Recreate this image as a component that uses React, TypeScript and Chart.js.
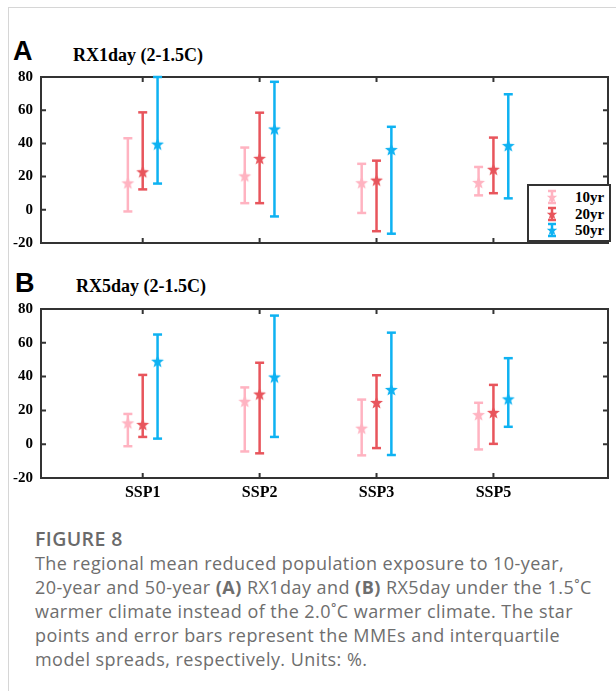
import React, { useEffect, useRef } from 'react';
import { Chart, registerables } from 'chart.js';

Chart.register(...registerables);

// ---------- data ----------
const categories = ['SSP1', 'SSP2', 'SSP3', 'SSP5'];
const categoryPositions = [1, 2, 3, 4];
const seriesNames = ['10yr', '20yr', '50yr'];
const seriesOffsets = [-0.127, 0, 0.127];
const seriesColors = ['#FFB3C1', '#E8555C', '#0EB2F2'];
const yTicks = [-20, 0, 20, 40, 60, 80];

// Panel A: RX1day (2-1.5C)
const rx1Mean10 = [16.2, 20.4, 16.3, 16.5];
const rx1Low10 = [-1.0, 4.0, -1.9, 8.7];
const rx1High10 = [43.1, 37.5, 27.7, 25.8];
const rx1Mean20 = [22.9, 31.0, 17.9, 24.4];
const rx1Low20 = [12.3, 4.0, -12.9, 10.0];
const rx1High20 = [58.7, 58.5, 29.6, 43.5];
const rx1Mean50 = [39.6, 48.7, 36.3, 38.7];
const rx1Low50 = [15.8, -4.0, -14.4, 6.9];
const rx1High50 = [80.0, 77.1, 50.0, 69.6];

// Panel B: RX5day (2-1.5C)
const rx5Mean10 = [12.6, 25.4, 9.5, 17.5];
const rx5Low10 = [-1.2, -4.3, -6.6, -3.1];
const rx5High10 = [17.9, 33.6, 26.4, 24.5];
const rx5Mean20 = [11.7, 29.7, 24.7, 18.8];
const rx5Low20 = [4.3, -5.4, -2.3, 0.2];
const rx5High20 = [41.0, 48.2, 40.8, 35.1];
const rx5Mean50 = [49.1, 39.8, 32.4, 26.8];
const rx5Low50 = [3.3, 4.3, -6.4, 10.3];
const rx5High50 = [64.9, 76.1, 66.0, 50.9];

const panelA = {
  means: [rx1Mean10, rx1Mean20, rx1Mean50],
  lows: [rx1Low10, rx1Low20, rx1Low50],
  highs: [rx1High10, rx1High20, rx1High50],
};
const panelB = {
  means: [rx5Mean10, rx5Mean20, rx5Mean50],
  lows: [rx5Low10, rx5Low20, rx5Low50],
  highs: [rx5High10, rx5High20, rx5High50],
};

// ---------- helpers ----------
function makeStar(color: string, size = 15) {
  const c = document.createElement('canvas');
  c.width = size;
  c.height = size;
  const ctx = c.getContext('2d')!;
  const cx = size / 2;
  const cy = size / 2 + 0.6;
  const R = 6.8;
  const r = R * 0.42;
  ctx.beginPath();
  for (let i = 0; i < 10; i++) {
    const a = -Math.PI / 2 + (i * Math.PI) / 5;
    const rad = i % 2 === 0 ? R : r;
    ctx.lineTo(cx + rad * Math.cos(a), cy + rad * Math.sin(a));
  }
  ctx.closePath();
  ctx.fillStyle = color;
  ctx.fill();
  return c;
}

const framePlugin = {
  id: 'frame',
  beforeDatasetsDraw(chart: any) {
    const { ctx, chartArea: a, scales } = chart;
    ctx.save();
    ctx.strokeStyle = '#333';
    ctx.lineWidth = 2;
    ctx.strokeRect(a.left, a.top, a.right - a.left, a.bottom - a.top);
    const tl = 5;
    ctx.beginPath();
    categoryPositions.forEach((v) => {
      const x = scales.x.getPixelForValue(v);
      ctx.moveTo(x, a.top);
      ctx.lineTo(x, a.top + tl);
      ctx.moveTo(x, a.bottom);
      ctx.lineTo(x, a.bottom - tl);
    });
    yTicks.forEach((v) => {
      const y = scales.y.getPixelForValue(v);
      ctx.moveTo(a.left, y);
      ctx.lineTo(a.left + tl, y);
      ctx.moveTo(a.right, y);
      ctx.lineTo(a.right - tl, y);
    });
    ctx.stroke();
    ctx.restore();
  },
};

function buildDatasets(panel: any) {
  const ds: any[] = [];
  seriesNames.forEach((name, s) => {
    const barData: any[] = [];
    categoryPositions.forEach((p, i) => {
      const x = p + seriesOffsets[s];
      barData.push({ x, y: panel.lows[s][i] });
      barData.push({ x, y: panel.highs[s][i] });
      barData.push({ x, y: null });
    });
    ds.push({
      type: 'line',
      label: name + ' spread',
      data: barData,
      borderColor: seriesColors[s],
      borderWidth: 2.5,
      pointStyle: 'line',
      pointRadius: 4.5,
      pointHoverRadius: 4.5,
      pointBorderWidth: 2.5,
      pointBorderColor: seriesColors[s],
      pointBackgroundColor: seriesColors[s],
      showLine: true,
      spanGaps: false,
      tension: 0,
      clip: false,
      order: 2,
    });
    ds.push({
      type: 'scatter',
      label: name,
      data: categoryPositions.map((p, i) => ({ x: p + seriesOffsets[s], y: panel.means[s][i] })),
      pointStyle: makeStar(seriesColors[s]),
      pointRadius: 7,
      clip: false,
      order: 1,
    });
  });
  return ds;
}

const tickFont = { family: '"Liberation Serif", "Times New Roman", serif', size: 15, weight: 'bold' as const };

function makeConfig(panel: any, showX: boolean, padTop: number, padBottom: number, xHeight: number) {
  return {
    type: 'scatter' as const,
    data: { datasets: buildDatasets(panel) },
    plugins: [framePlugin],
    options: {
      animation: false as const,
      responsive: false,
      events: [],
      layout: { padding: { top: padTop, bottom: padBottom, left: 0, right: 1 } },
      plugins: { legend: { display: false }, title: { display: false }, tooltip: { enabled: false } },
      scales: {
        x: {
          type: 'linear' as const,
          min: 0.13,
          max: 4.98,
          display: showX,
          grid: { display: false, drawTicks: false },
          border: { display: false },
          afterBuildTicks: (scale: any) => {
            scale.ticks = categoryPositions.map((v) => ({ value: v }));
          },
          afterFit: (scale: any) => {
            scale.height = xHeight;
          },
          ticks: {
            autoSkip: false,
            maxRotation: 0,
            padding: 5,
            color: '#000',
            font: { ...tickFont, size: 16 },
            callback: (_v: any, i: number) => categories[i],
          },
        },
        y: {
          type: 'linear' as const,
          min: -20,
          max: 80,
          grid: { display: false, drawTicks: false },
          border: { display: false },
          afterBuildTicks: (scale: any) => {
            scale.ticks = yTicks.map((v) => ({ value: v }));
          },
          afterFit: (scale: any) => {
            scale.width = 41;
          },
          ticks: {
            padding: 8,
            color: '#000',
            font: tickFont,
          },
        },
      },
    },
  };
}

function ChartCanvas({ config, width, height, style }: any) {
  const ref = useRef<HTMLCanvasElement | null>(null);
  useEffect(() => {
    const chart = new Chart(ref.current as HTMLCanvasElement, config as any);
    return () => chart.destroy();
  }, []);
  return <canvas ref={ref} width={width} height={height} style={{ position: 'absolute', ...style }} />;
}

function LegendIcon({ color }: { color: string }) {
  const pts: string[] = [];
  const cx = 7, cy = 8.5, R = 5.5, r = 2.3;
  for (let i = 0; i < 10; i++) {
    const a = -Math.PI / 2 + (i * Math.PI) / 5;
    const rad = i % 2 === 0 ? R : r;
    pts.push(`${(cx + rad * Math.cos(a)).toFixed(2)},${(cy + rad * Math.sin(a)).toFixed(2)}`);
  }
  return (
    <svg width={14} height={16} style={{ display: 'block' }}>
      <line x1={7} y1={2} x2={7} y2={14} stroke={color} strokeWidth={2.5} />
      <line x1={3} y1={2} x2={11} y2={2} stroke={color} strokeWidth={2.5} />
      <line x1={3} y1={14} x2={11} y2={14} stroke={color} strokeWidth={2.5} />
      <polygon points={pts.join(' ')} fill={color} />
    </svg>
  );
}

const serif = '"Liberation Serif", "Times New Roman", serif';
const sans = '"Liberation Sans", Arial, sans-serif';
const capFont = '"Open Sans", "Noto Sans", sans-serif';

export default function App() {
  const cfgA = makeConfig(panelA, false, 15, 12, 0);
  const cfgB = makeConfig(panelB, true, 15, 1, 28);
  const captionLines = [
    <>The regional mean reduced population exposure to 10-year,</>,
    <>20-year and 50-year <b>(A)</b> RX1day and <b>(B)</b> RX5day under the 1.5˚C</>,
    <>warmer climate instead of the 2.0˚C warmer climate. The star</>,
    <>points and error bars represent the MMEs and interquartile</>,
    <>model spreads, respectively. Units: %.</>,
  ];
  return (
    <div style={{ position: 'absolute', left: 0, top: 0, width: 616, height: 691, overflow: 'hidden', background: '#fff' }}>
      <div style={{ position: 'absolute', left: 8, top: 7, width: 700, height: 700, borderLeft: '1px solid #d6d6d6', borderTop: '1px solid #d6d6d6' }} />

      <div style={{ position: 'absolute', left: 13, top: 37.5, fontFamily: sans, fontWeight: 'bold', fontSize: 27, lineHeight: '27px' }}>A</div>
      <div style={{ position: 'absolute', left: 73, top: 46, fontFamily: serif, fontWeight: 'bold', fontSize: 18, lineHeight: '18px', whiteSpace: 'nowrap' }}>RX1day (2-1.5C)</div>
      <ChartCanvas config={cfgA} width={616} height={200} style={{ left: 0, top: 60 }} />

      <div style={{ position: 'absolute', left: 527, top: 184, width: 80, height: 54, border: '2px solid #333', background: '#fff' }}>
        {seriesNames.map((n, i) => (
          <div key={n} style={{ position: 'absolute', left: 0, top: 3 + i * 16.5, height: 17, width: 80 }}>
            <div style={{ position: 'absolute', left: 16, top: 0 }}>
              <LegendIcon color={seriesColors[i]} />
            </div>
            <div style={{ position: 'absolute', left: 46, top: 0, fontFamily: serif, fontWeight: 'bold', fontSize: 15, lineHeight: '17px' }}>{n}</div>
          </div>
        ))}
      </div>

      <div style={{ position: 'absolute', left: 15, top: 269.5, fontFamily: sans, fontWeight: 'bold', fontSize: 27, lineHeight: '27px' }}>B</div>
      <div style={{ position: 'absolute', left: 76, top: 277, fontFamily: serif, fontWeight: 'bold', fontSize: 18, lineHeight: '18px', whiteSpace: 'nowrap' }}>RX5day (2-1.5C)</div>
      <ChartCanvas config={cfgB} width={616} height={215} style={{ left: 0, top: 292 }} />

      <div style={{ position: 'absolute', left: 35, top: 527, fontFamily: capFont, fontWeight: 600, fontSize: 19.5, lineHeight: '24px', color: '#6a6a6a', letterSpacing: '0.4px', whiteSpace: 'nowrap' }}>FIGURE 8</div>
      <div style={{ position: 'absolute', left: 35, top: 551, fontFamily: capFont, fontSize: 18, lineHeight: '24px', color: '#6e6e6e', letterSpacing: '0.45px' }}>
        {captionLines.map((l, i) => (
          <div key={i} style={{ whiteSpace: 'nowrap' }}>{l}</div>
        ))}
      </div>
    </div>
  );
}
